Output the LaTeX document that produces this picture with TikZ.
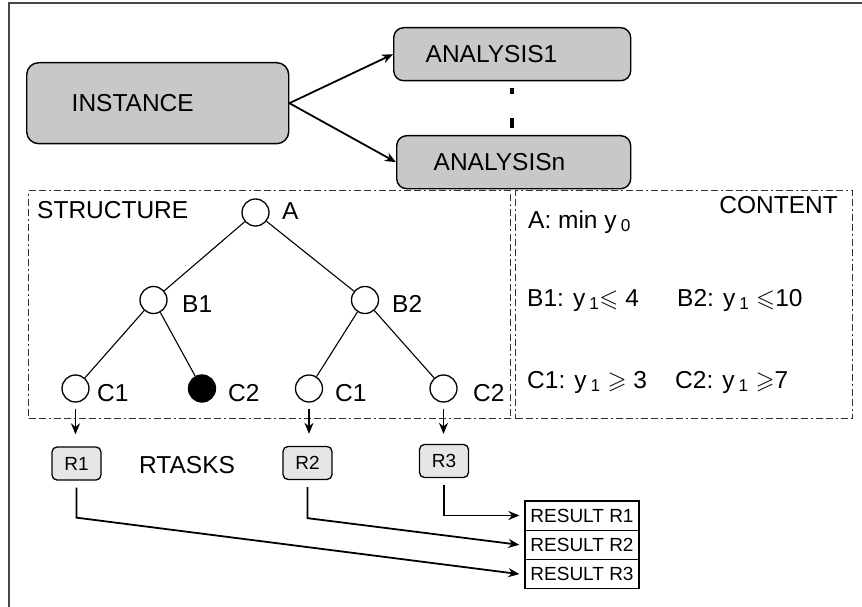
\documentclass[tikz,border=0pt]{standalone}
\usepackage{fontspec}
\usepackage{amssymb}
\setmainfont{Liberation Sans}
\usetikzlibrary{arrows.meta}
\definecolor{boxgray}{RGB}{200,200,200}
\definecolor{rgray}{RGB}{230,230,230}
\definecolor{framegray}{RGB}{70,70,70}
\definecolor{ddgray}{RGB}{50,50,50}
\begin{document}
\begin{tikzpicture}[x=1pt,y=-1pt,
  big/.style={font=\fontsize{24.5}{29}\selectfont},
  small/.style={font=\fontsize{19}{23}\selectfont},
  graybox/.style={draw=black, fill=boxgray, rounded corners=12pt, line width=1.4pt, align=left, anchor=north west, big},
  ddbox/.style={draw=ddgray, line width=1.3pt, dash pattern=on 7pt off 3pt on 7pt off 3pt on 2pt off 3pt, anchor=north west},
  circ/.style={circle, draw=black, fill=white, line width=1.3pt, minimum size=27pt, inner sep=0pt},
  edge/.style={draw=black, line width=1.1pt},
  conn/.style={draw=black, line width=1.8pt, -{Stealth[length=11pt,width=9pt]}},
  rbox/.style={draw=black, fill=rgray, rounded corners=5pt, line width=1.3pt, minimum width=49pt, minimum height=33pt, inner sep=0pt, small},
  resbox/.style={draw=black, line width=1.3pt, minimum width=114pt, minimum height=29.3pt, inner sep=0pt, small},
  lbl/.style={inner sep=0pt, anchor=base west, big},
]
\useasboundingbox (0,0) rectangle (862,607);
% outer frame (top and left only)
\draw[framegray, line width=2.2pt] (862,3) -- (9,3) -- (9,607);

% top part
\node[graybox, minimum width=262pt, minimum height=81pt, text width=172pt, inner xsep=45pt] (inst) at (26,62) {INSTANCE};
\node[graybox, rounded corners=10pt, minimum width=237pt, minimum height=53pt, text width=173pt, inner xsep=32pt] (a1) at (393,27) {ANALYSIS1};
\node[graybox, rounded corners=10pt, minimum width=234pt, minimum height=53pt, text width=160pt, inner xsep=37pt] (an) at (396,135) {ANALYSISn};
\draw[conn] (inst.east) -- (a1.west);
\draw[conn] (inst.east) -- (an.west);
\draw[line width=3.5pt, dash pattern=on 0pt off 7pt on 6pt off 24pt on 10pt off 60pt] (a1.south) -- (a1.south |- an.north);

% structure and content panels
\node[ddbox, minimum width=482pt, minimum height=228pt] (structure) at (28,190) {};
\node[ddbox, minimum width=337pt, minimum height=228pt] (content) at (515,190) {};
\node[lbl] (lstruct) at (37,218) {STRUCTURE};
\node[inner sep=0pt, anchor=base east, big] (lcontent) at (838,213) {CONTENT};

% tree
\node[circ] (nA) at (255.5,212.5) {};
\node[circ] (nB1) at (153.5,300) {};
\node[circ] (nB2) at (365,300) {};
\node[circ] (nC1) at (75.5,388.5) {};
\node[circ, fill=black] (nC2) at (202,388.5) {};
\node[circ] (nC1b) at (309,388.5) {};
\node[circ] (nC2b) at (443.5,388.5) {};
\draw[edge] (nA) -- (nB1);
\draw[edge] (nA) -- (nB2);
\draw[edge] (nB1) -- (nC1);
\draw[edge] (nB1) -- (nC2);
\draw[edge] (nB2) -- (nC1b);
\draw[edge] (nB2) -- (nC2b);
\node[lbl] (tA) at (282,219) {A};
\node[lbl] (tB1) at (182,312) {B1};
\node[lbl] (tB2) at (392,312) {B2};
\node[lbl] (tC1) at (97,401) {C1};
\node[lbl] (tC2) at (228,401) {C2};
\node[lbl] (tC1b) at (335,401) {C1};
\node[lbl] (tC2b) at (473,401) {C2};

% content texts
\node[lbl] (cA) at (528,228) {A: min y\,\textsubscript{0}};
\node[lbl] (cB1) at (527,306) {B1: y\,\textsubscript{1}$\leqslant$ 4};
\node[lbl] (cB2) at (677,306) {B2: y\,\textsubscript{1} $\leqslant$10};
\node[lbl] (cC1) at (527,388) {C1: y\,\textsubscript{1} $\geqslant$ 3};
\node[lbl] (cC2) at (675,388) {C2: y\,\textsubscript{1} $\geqslant$7};

% rtasks
\node[rbox] (r1) at (76.5,463.5) {R1};
\node[rbox] (r2) at (307.5,463) {R2};
\node[rbox] (r3) at (444,461) {R3};
\node[lbl] (rt) at (139,473) {RTASKS};
\draw[conn] ([yshift=-6pt]nC1.south) -- ([yshift=12pt]nC1.south |- r1.north);
\draw[conn] ([yshift=-6pt]nC1b.south) -- ([yshift=12pt]nC1b.south |- r2.north);
\draw[conn] ([yshift=-6pt]nC2b.south) -- ([yshift=10pt]nC2b.south |- r3.north);

% results
\node[resbox] (res1) at (582,515.5) {RESULT R1};
\node[resbox] (res2) at (582,544.8) {RESULT R2};
\node[resbox] (res3) at (582,574.1) {RESULT R3};
\draw[conn] ([yshift=-7pt]r3.south) |- ([xshift=-5pt]res1.west);
\draw[conn] ([yshift=-7pt]r2.south) -- ([yshift=-38pt]r2.south) -- ([xshift=-5pt]res2.west);
\draw[conn] ([yshift=-7pt]r1.south) -- ([yshift=-37pt]r1.south) -- ([xshift=-5pt]res3.west);
\end{tikzpicture}
\end{document}
